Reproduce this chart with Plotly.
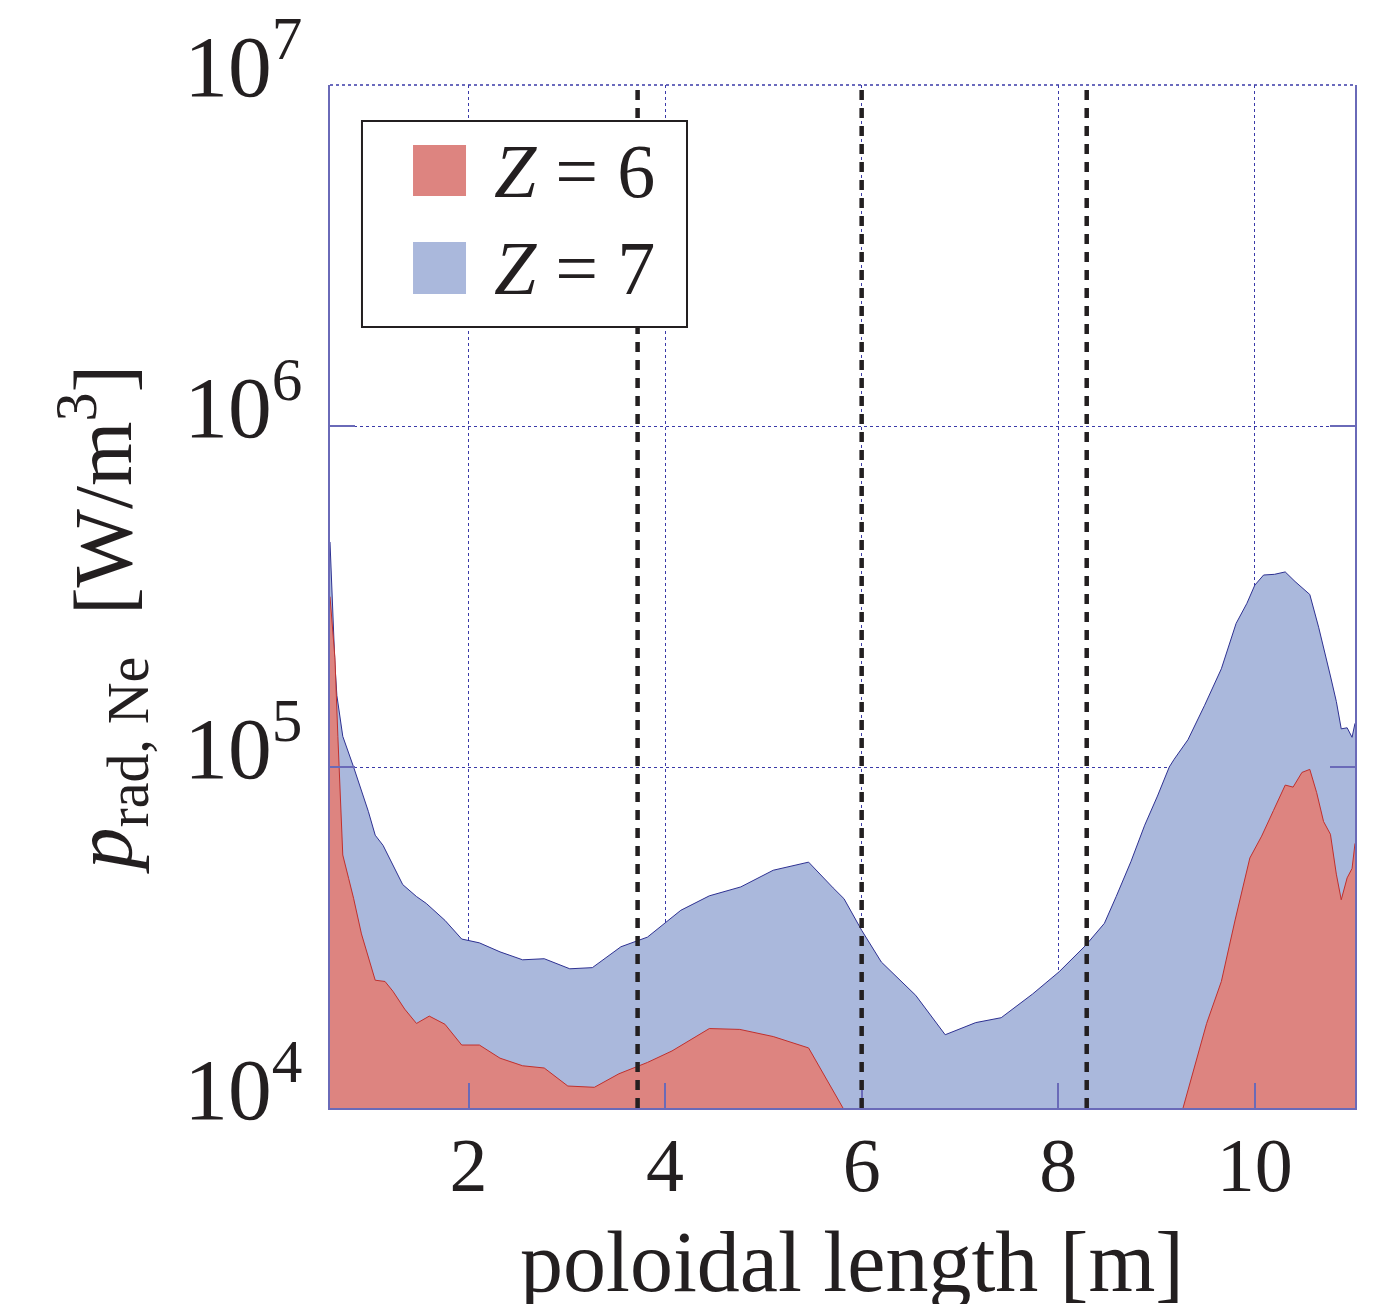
import plotly.graph_objects as go

# ---------------- data ----------------
x_z7 = [0.59, 0.61, 0.64, 0.66, 0.72, 0.83, 0.91, 0.98, 1.05, 1.13, 1.33, 1.47, 1.57, 1.76,
        1.93, 2.11, 2.32, 2.55, 2.77, 3.03, 3.26, 3.55, 3.82, 3.99, 4.16, 4.45, 4.77, 5.10,
        5.37, 5.46, 5.71, 5.82, 6.00, 6.20, 6.55, 6.85, 7.16, 7.42, 7.74, 8.01, 8.28, 8.40,
        8.47, 8.59, 8.74, 8.88, 9.01, 9.13, 9.18, 9.32, 9.49, 9.66, 9.81, 9.92, 10.00, 10.09,
        10.20, 10.31, 10.41, 10.56, 10.65, 10.77, 10.83, 10.88, 10.94, 10.99, 11.02]
p_z7 = [457000, 316000, 200000, 162000, 123000, 100000, 85100, 74100, 63100, 58900, 45200,
        41700, 39800, 35500, 31300, 30500, 28700, 27200, 27400, 25600, 25800, 29700, 31700,
        34600, 38000, 41900, 44500, 49800, 51800, 52600, 44200, 41100, 33200, 26800, 21400,
        16400, 17800, 18400, 21600, 25100, 30000, 33100, 34800, 41700, 52800, 67500, 82200,
        100000, 105400, 120200, 151700, 194100, 263600, 302000, 341200, 365600, 367300,
        373300, 349900, 320600, 257000, 184900, 155600, 129400, 130300, 122200, 134300]

x_z6 = [0.59, 0.64, 0.67, 0.72, 0.78, 0.83, 0.91, 1.05, 1.15, 1.23, 1.35, 1.47, 1.60, 1.76,
        1.93, 2.11, 2.32, 2.55, 2.77, 3.01, 3.28, 3.53, 3.82, 4.07, 4.45, 4.76, 5.10, 5.46,
        5.81, 6.20, 7.50, 8.80, 9.27, 9.39, 9.51, 9.66, 9.80, 9.95, 10.07, 10.19, 10.31,
        10.39, 10.48, 10.56, 10.63, 10.70, 10.77, 10.83, 10.88, 10.94, 10.99, 11.02]
p_z6 = [316000, 209000, 123000, 55200, 47100, 41200, 32400, 23700, 23500, 22000, 19500,
        17700, 18600, 17600, 15300, 15300, 14000, 13300, 13100, 11600, 11500, 12600, 13600,
        14700, 17100, 17000, 16200, 15000, 10000, 5000, 2000, 4000, 10000, 13400, 17700,
        23500, 35600, 54100, 62700, 74500, 88500, 87300, 96400, 98400, 84100, 69200, 63500,
        48500, 40800, 47300, 50400, 59700]

separatrix_x = [3.72, 6.0, 8.29]
x_ticks = [2, 4, 6, 8, 10]
x_range = [0.59, 11.02]
y_range_log = [4, 7]
legend_labels = ["<i>Z</i> = 6", "<i>Z</i> = 7"]
y_title = "<i>p</i><sub>rad, Ne</sub>\u00a0\u00a0[W/m<sup>3</sup>]"
x_title = "poloidal length [m]"

# ---------------- style ----------------
FONT = "Liberation Serif, Times New Roman, serif"
TXT = "#231f20"
RED_FILL = "#dd8480"
RED_LINE = "#c0302d"
BLUE_FILL = "#aab8dc"
BLUE_LINE = "#2e3192"
GRID = "#3a3aa8"
AXIS = "#6a6ab8"

fig = go.Figure()

baseline_y = [1, 1]
# Z = 7 (blue) area
fig.add_trace(go.Scatter(x=[x_z7[0], x_z7[-1]], y=baseline_y, mode="lines",
                         line=dict(width=0), showlegend=False, hoverinfo="skip"))
fig.add_trace(go.Scatter(x=x_z7, y=p_z7, mode="lines", fill="tonexty",
                         fillcolor=BLUE_FILL, line=dict(color=BLUE_LINE, width=1),
                         name="Z = 7", showlegend=False))
# Z = 6 (red) area
fig.add_trace(go.Scatter(x=[x_z6[0], x_z6[-1]], y=baseline_y, mode="lines",
                         line=dict(width=0), showlegend=False, hoverinfo="skip"))
fig.add_trace(go.Scatter(x=x_z6, y=p_z6, mode="lines", fill="tonexty",
                         fillcolor=RED_FILL, line=dict(color=RED_LINE, width=1),
                         name="Z = 6", showlegend=False))

for xs in separatrix_x:
    fig.add_vline(x=xs, line=dict(color=TXT, width=4.5, dash="10px,8px"), layer="above")

# dotted top frame (grid line at the upper boundary)
fig.add_shape(type="line", xref="paper", yref="paper", x0=0, x1=1, y0=1, y1=1,
              line=dict(color=GRID, width=1.4, dash="dot"), layer="above")

# custom legend (box, swatches, labels)
fig.add_shape(type="rect", xref="paper", yref="paper", x0=0.0312, x1=0.3483, y0=0.7634,
              y1=0.9648, line=dict(color=TXT, width=2), fillcolor="white", layer="above")
swatches = [(RED_FILL, 0.8915, 0.9413), (BLUE_FILL, 0.7957, 0.8465)]
for (col, y0, y1), lab in zip(swatches, legend_labels):
    fig.add_shape(type="rect", xref="paper", yref="paper", x0=0.081, x1=0.1327, y0=y0,
                  y1=y1, line=dict(width=0), fillcolor=col, layer="above")
    fig.add_annotation(xref="paper", yref="paper", x=0.158, y=(y0 + y1) / 2,
                       xanchor="left", yanchor="middle", text=lab, showarrow=False,
                       font=dict(family=FONT, size=76, color=TXT))

# axis titles as annotations (precise placement)
fig.add_annotation(xref="paper", yref="paper", x=-0.2224, y=0.477, xanchor="center",
                   yanchor="middle", textangle=-90, text=y_title, showarrow=False,
                   font=dict(family=FONT, size=83, color=TXT))
fig.add_annotation(xref="paper", yref="paper", x=0.509, y=-0.1017, xanchor="center",
                   yanchor="top", text=x_title, showarrow=False,
                   font=dict(family=FONT, size=86, color=TXT))

# page body has an 8px margin: shift the plot area accordingly
fig.update_layout(
    width=1391, height=1304,
    margin=dict(l=322, r=44, t=77, b=204, autoexpand=False),
    paper_bgcolor="white", plot_bgcolor="white",
    showlegend=False,
    font=dict(family=FONT, color=TXT),
)
fig.update_xaxes(
    range=x_range, tickvals=x_ticks, ticks="inside", ticklen=25, tickwidth=1.5,
    tickcolor=AXIS, showgrid=True, gridcolor=GRID, griddash="dot", gridwidth=1.4,
    showline=True, linecolor=AXIS, linewidth=1.5, mirror=False, zeroline=False,
    automargin=False,
    tickfont=dict(family=FONT, size=76, color=TXT), ticklabelstandoff=-10,
)
fig.update_yaxes(
    type="log", range=y_range_log, dtick=1, exponentformat="power", showexponent="all",
    ticks="inside", ticklen=25, tickwidth=1.5, tickcolor=AXIS,
    showgrid=True, gridcolor=GRID, griddash="dot", gridwidth=1.4,
    showline=True, linecolor=AXIS, linewidth=1.5, mirror="ticks", zeroline=False,
    automargin=False,
    tickfont=dict(family=FONT, size=70, color=TXT), ticklabelstandoff=12,
    ticklabelshift=-20, ticklabeloverflow="allow",
)

fig.write_html("out.html")
